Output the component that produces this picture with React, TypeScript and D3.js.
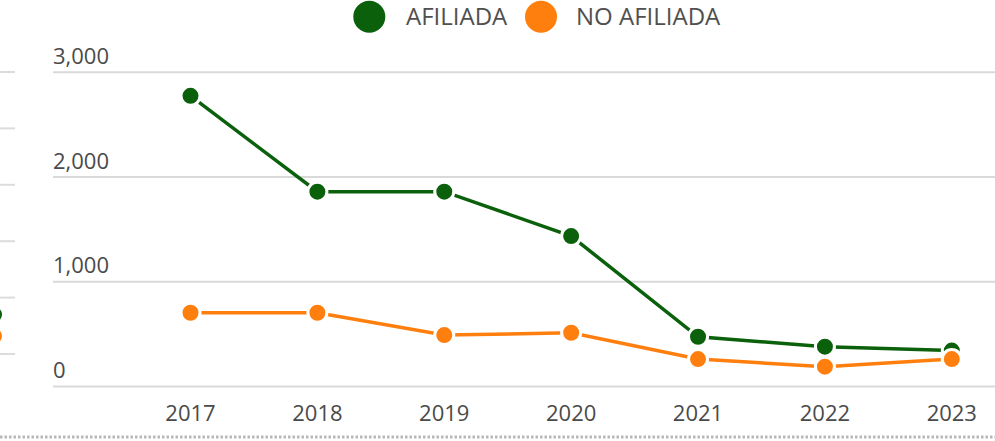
import React from "react";
import * as d3 from "d3";

const years = ["2017", "2018", "2019", "2020", "2021", "2022", "2023"];
const afiliada = [2775, 1860, 1860, 1436, 475, 380, 343];
const noAfiliada = [704, 704, 491, 513, 262, 189, 262];
const yTicks = [0, 1000, 2000, 3000];
const seriesNames = ["AFILIADA", "NO AFILIADA"];
const seriesColors = ["#0b600b", "#ff7f0e"];

// partially visible neighbouring panel at the left edge
const ghostTicks = [0, 1, 2, 3, 4, 5];
const ghostValues = [4.3, 4.68];

const W = 995;
const H = 441;
const FONT = "'Open Sans', 'DejaVu Sans', sans-serif";

export default function App() {
  const x = d3.scalePoint<string>().domain(years).range([190.5, 951.8]);
  const y = d3.scaleLinear().domain([0, 3000]).range([386.5, 72.3]);
  const gy = d3.scaleLinear().domain([0, 5]).range([72, 354]);
  const fmt = d3.format(",");
  const line = d3
    .line<number>()
    .x((_, i) => x(years[i]) as number)
    .y((d) => y(d));
  const series = [afiliada, noAfiliada];

  return (
    <svg
      width={W}
      height={H}
      style={{ position: "absolute", left: 0, top: 0, display: "block", background: "#fff" }}
    >
      {/* ghost panel */}
      <g>
        {ghostTicks.map((t) => (
          <line key={t} x1={0} x2={15} y1={gy(t)} y2={gy(t)} stroke="#dcdcdc" strokeWidth={2} />
        ))}
        {ghostValues.map((v, i) => (
          <circle key={i} cx={-6} cy={gy(v)} r={8} fill={seriesColors[i]} />
        ))}
      </g>

      {/* grid + y labels */}
      {yTicks.map((t) => (
        <g key={t}>
          <line x1={53} x2={W} y1={y(t)} y2={y(t)} stroke="#d9d9d9" strokeWidth={2} />
          <text
            x={53}
            y={y(t) - 8.5}
            fontFamily={FONT}
            fontSize={22}
            fill="#4a4a4a"
          >
            {fmt(t)}
          </text>
        </g>
      ))}

      {/* x labels */}
      {years.map((yr) => (
        <text
          key={yr}
          x={x(yr)}
          y={420.5}
          textAnchor="middle"
          fontFamily={FONT}
          fontSize={22}
          fill="#4a4a4a"
        >
          {yr}
        </text>
      ))}

      {/* bottom dotted rule */}
      <line x1={0} x2={W} y1={437} y2={437} stroke="#b8b8b8" strokeWidth={3} strokeDasharray="2.5 2" />

      {/* lines */}
      {series.map((s, si) => (
        <path key={si} d={line(s) || ""} fill="none" stroke={seriesColors[si]} strokeWidth={3.5} />
      ))}
      {series.map((s, si) => (
        <g key={si}>
          {s.map((v, i) => (
            <circle
              key={i}
              cx={x(years[i])}
              cy={y(v)}
              r={9.5}
              fill={seriesColors[si]}
              stroke="#fff"
              strokeWidth={3}
            />
          ))}
        </g>
      ))}

      {/* legend */}
      <g>
        <circle cx={369.3} cy={16.7} r={16} fill={seriesColors[0]} />
        <text x={406} y={24.5} fontFamily={FONT} fontSize={24} fill="#505050">
          {seriesNames[0]}
        </text>
        <circle cx={541} cy={16.7} r={16} fill={seriesColors[1]} />
        <text x={576} y={24.5} fontFamily={FONT} fontSize={24} fill="#505050">
          {seriesNames[1]}
        </text>
      </g>
    </svg>
  );
}
